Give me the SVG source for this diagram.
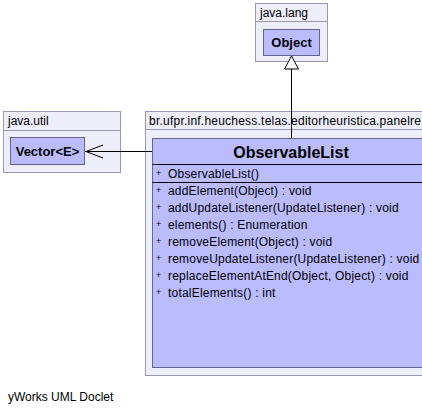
<svg xmlns="http://www.w3.org/2000/svg" width="422" height="413" viewBox="0 0 422 413">
<style>
text{font-family:"Liberation Sans",Arial,sans-serif;fill:#000}
.pkg{fill:#eeeefa;stroke:#9a98b0;stroke-width:1}
.cls{fill:#bbbbff;stroke:#66668a;stroke-width:1}
.sep{stroke:#000;stroke-width:1}
.pl{font-size:12px}
.cn{font-size:13px;font-weight:bold}
.m{font-size:12px}
.mm{letter-spacing:0.2px}
.big{font-size:16px;font-weight:bold}
</style>
<rect width="422" height="413" fill="#fff"/>
<g id="pkg-java-lang">
<rect class="pkg" x="255.5" y="3.5" width="72" height="58"/>
<line x1="255.5" y1="21.5" x2="327.5" y2="21.5" stroke="#9a98b0"/>
<text class="pl" x="260" y="16.5">java.lang</text>
</g>
<g id="Object">
<rect class="cls" x="263.5" y="29.5" width="56" height="26"/>
<text class="cn" x="291.5" y="47" text-anchor="middle">Object</text>
</g>
<g id="pkg-java-util">
<rect class="pkg" x="3.5" y="111.5" width="117" height="61"/>
<line x1="3.5" y1="130.5" x2="120.5" y2="130.5" stroke="#9a98b0"/>
<text class="pl" x="8" y="125">java.util</text>
</g>
<g id="Vector">
<rect class="cls" x="10.5" y="137.5" width="74" height="27"/>
<text class="cn" x="47.5" y="156" text-anchor="middle">Vector&lt;E&gt;</text>
</g>
<g id="pkg-panel">
<rect class="pkg" x="145.5" y="111.5" width="290" height="264"/>
<line x1="145.5" y1="129.5" x2="435.5" y2="129.5" stroke="#9a98b0"/>
<text class="pl" x="149" y="124.5" textLength="272" lengthAdjust="spacing">br.ufpr.inf.heuchess.telas.editorheuristica.panelre</text>
</g>
<g id="ObservableList">
<rect class="cls" x="152.5" y="138.5" width="278" height="229"/>
<line class="sep" x1="152.5" y1="164.5" x2="430" y2="164.5"/>
<line class="sep" x1="152.5" y1="182.5" x2="430" y2="182.5"/>
<text class="big" x="291" y="158" text-anchor="middle">ObservableList</text>
<text class="m" x="156" y="178"><tspan font-size="9" dy="-2">+</tspan><tspan class="mm" x="168" dy="2">ObservableList()</tspan></text>
<text class="m" x="156" y="195"><tspan font-size="9" dy="-2">+</tspan><tspan class="mm" x="168" dy="2">addElement(Object) : void</tspan></text>
<text class="m" x="156" y="212"><tspan font-size="9" dy="-2">+</tspan><tspan class="mm" x="168" dy="2">addUpdateListener(UpdateListener) : void</tspan></text>
<text class="m" x="156" y="229"><tspan font-size="9" dy="-2">+</tspan><tspan class="mm" x="168" dy="2">elements() : Enumeration</tspan></text>
<text class="m" x="156" y="246"><tspan font-size="9" dy="-2">+</tspan><tspan class="mm" x="168" dy="2">removeElement(Object) : void</tspan></text>
<text class="m" x="156" y="263"><tspan font-size="9" dy="-2">+</tspan><tspan class="mm" x="168" dy="2">removeUpdateListener(UpdateListener) : void</tspan></text>
<text class="m" x="156" y="280"><tspan font-size="9" dy="-2">+</tspan><tspan class="mm" x="168" dy="2">replaceElementAtEnd(Object, Object) : void</tspan></text>
<text class="m" x="156" y="297"><tspan font-size="9" dy="-2">+</tspan><tspan class="mm" x="168" dy="2">totalElements() : int</tspan></text>
</g>
<g id="connectors" fill="none" stroke="#000" stroke-width="1">
<line x1="291.5" y1="69" x2="291.5" y2="138"/>
<polygon points="291.5,56 284.5,69 298.5,69" fill="#fff"/>
<line x1="85" y1="151.5" x2="152" y2="151.5"/>
<polyline points="103,145 86,151.5 103,158"/>
</g>
<text class="m" x="8" y="401">yWorks UML Doclet</text>
</svg>
